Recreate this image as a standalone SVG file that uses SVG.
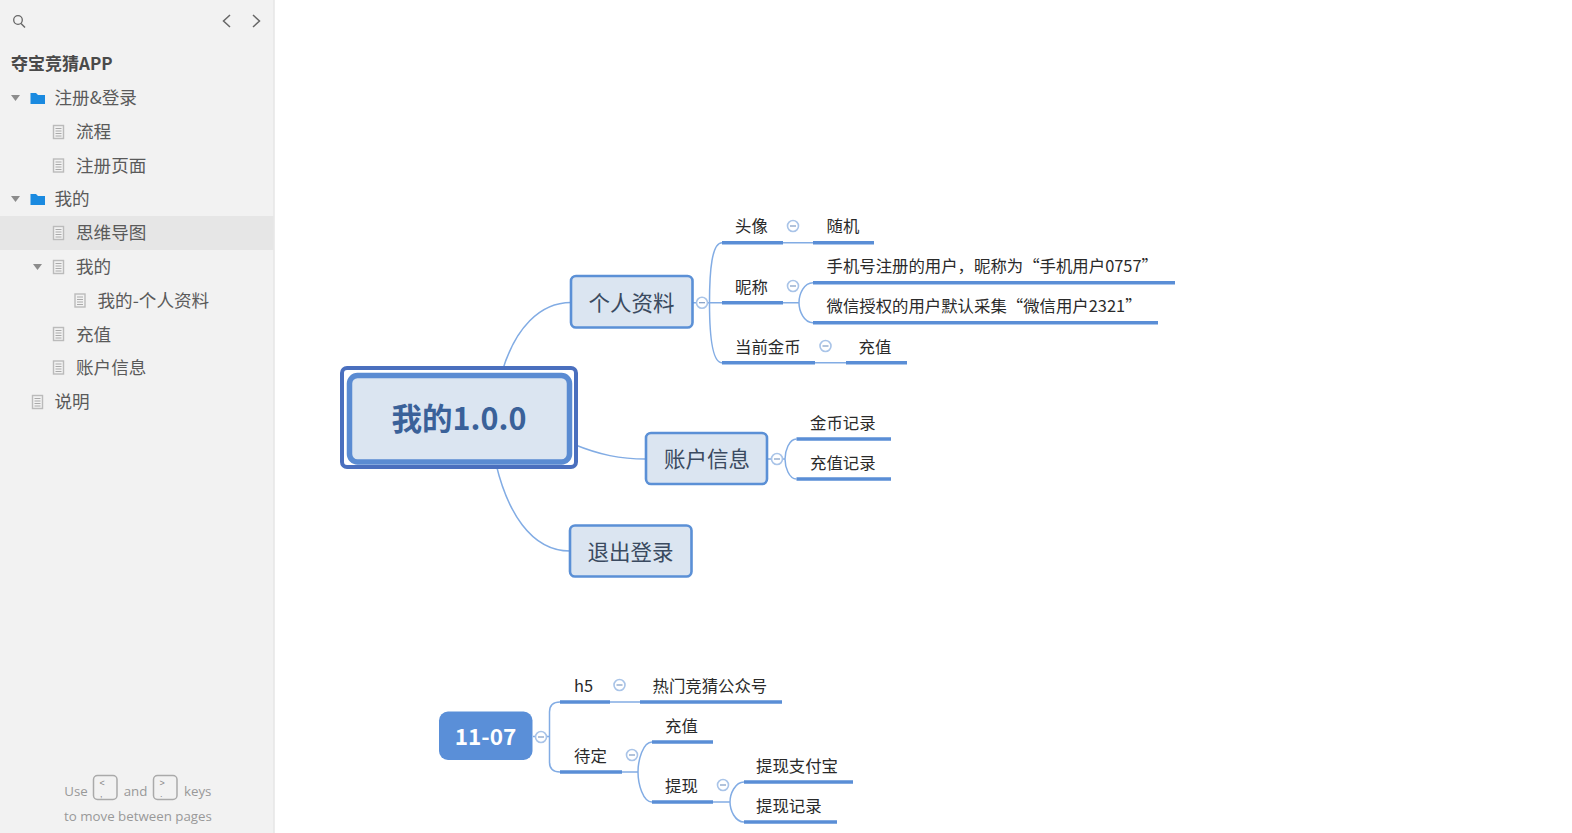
<svg xmlns="http://www.w3.org/2000/svg" width="1572" height="833" viewBox="0 0 1572 833">
<style>
text{font-family:"Noto Sans CJK SC","Noto Sans",sans-serif}
.side{font-size:17.6px;fill:#5a5a5a}
.hint{font-family:"Open Sans","Noto Sans",sans-serif;font-size:13.300px;fill:#999}
.key{fill:none;stroke:#aaa;stroke-width:1.5}
.keyt{font-family:"Liberation Sans",sans-serif;font-size:9px;fill:#888}
.doc{fill:#f2f2f2;stroke:#bbb;stroke-width:1.4}
.docl{stroke:#aaa;stroke-width:1;fill:none}
.tri{fill:#8c8c8c}
.folder{fill:#1a8ae0}
.main{fill:#dbe5f1;stroke:#5b90d6;stroke-width:2.6}
.mt{font-size:21.500px;fill:#3a4a60;text-anchor:middle}
.leaf{font-size:16.400px;fill:#2a2a2a}
.thin{fill:none;stroke:#82ace4;stroke-width:1.5}
.thick{fill:none;stroke:#5a8ed6;stroke-width:3.600}
.col{fill:#fff;stroke:#a9c4e8;stroke-width:1.6}
.colm{stroke:#7f9cc4;stroke-width:1.2}
</style>
<defs>
<g id="d"><rect class="doc" x="-5" y="-6.500" width="10" height="13"/><path class="docl" d="M-3-3.500H3M-3-1H3M-3 1.500H3M-3 4H3"/></g>
<g id="f"><path class="folder" d="M0 0H5.500L7.500 2H14.500V11H0Z"/></g>
<g id="c"><circle class="col" r="5.500"/><path class="colm" d="M-3 0H3"/></g>
</defs>
<rect width="1572" height="833" fill="#fff"/>
<g id="sidebar">
<rect width="273.500" height="833" fill="#f2f2f2"/>
<rect x="273.500" width="1" height="833" fill="#d9d9d9"/>
<rect y="216" width="273.500" height="34" fill="#e6e6e6"/>
<circle cx="18" cy="20" r="4.300" fill="none" stroke="#666" stroke-width="1.300"/><path d="M21 23.500L25 27.500" stroke="#666" stroke-width="1.500"/>
<path d="M230 15L223.500 21L230 27M253 15L259.500 21L253 27" fill="none" stroke="#666" stroke-width="1.500"/>
<text x="11" y="70" font-size="17" font-weight="700" fill="#4a4a4a">夺宝竞猜APP</text>
<path class="tri" d="M11 95H20L15.500 101Z"/><use href="#f" x="30.500" y="93"/><text class="side" x="54.500" y="104">注册&amp;登录</text>
<use href="#d" x="58.500" y="132"/><text class="side" x="76" y="138">流程</text>
<use href="#d" x="58.500" y="165.500"/><text class="side" x="76" y="172">注册页面</text>
<path class="tri" d="M11 196H20L15.500 202Z"/><use href="#f" x="30.500" y="194"/><text class="side" x="54.500" y="205">我的</text>
<use href="#d" x="58.500" y="233"/><text class="side" x="76" y="239">思维导图</text>
<path class="tri" d="M33 264H42L37.500 270Z"/><use href="#d" x="58.500" y="267"/><text class="side" x="76" y="273">我的</text>
<use href="#d" x="80" y="300.500"/><text class="side" x="97.500" y="307">我的-个人资料</text>
<use href="#d" x="58.500" y="334"/><text class="side" x="76" y="340.500">充值</text>
<use href="#d" x="58.500" y="367.500"/><text class="side" x="76" y="374">账户信息</text>
<use href="#d" x="37.500" y="402"/><text class="side" x="54.500" y="408">说明</text>
<text class="hint" x="64.300" y="796">Use</text>
<rect class="key" x="93.500" y="775.500" width="23.500" height="24" rx="4"/><text class="keyt" x="99.500" y="786">&lt;</text><text class="keyt" x="100" y="796.500">,</text>
<text class="hint" x="123.700" y="796">and</text>
<rect class="key" x="153.500" y="775.500" width="23.500" height="24" rx="4"/><text class="keyt" x="159.500" y="786">&gt;</text><text class="keyt" x="160" y="796.500">.</text>
<text class="hint" x="184" y="796">keys</text>
<text class="hint" x="64" y="821">to move between pages</text>
</g>
<g id="connectors">
<path class="thin" d="M502 372C515 328 540 302.500 571 302.500"/>
<path class="thin" d="M573 444C600 455 620 459 646 459"/>
<path class="thin" d="M496 464C507 510 530 551 570 551"/>
<path class="thin" d="M693 302.700H722M709.500 302.700C709.500 270 712 242.700 722 242.700M709.500 302.700C709.500 335 712 362.700 722 362.700"/>
<path class="thick" d="M722 242.700H783M813 242.700H874M722 302.700H783M813 282.700H1175M813 322.700H1158M722 362.700H815M846 362.700H907"/>
<path class="thin" d="M783 242.700H813M783 302.700H799M846 362.700H815M813 282.700C804 282.700 799 294 799 302.700C799 311 804 322.700 813 322.700"/>
<path class="thin" d="M767 459H785M796.500 439C789 439 785 451 785 459C785 467 789 479 796.500 479"/>
<path class="thick" d="M796.500 439H891M796.500 479H891"/>
<path class="thin" d="M533 736.500H549.500M560 702C553 702 549.500 705 549.500 712V762C549.500 769 553 772 560 772"/>
<path class="thick" d="M560 702H610M640 702H782M560 772H622M652 742H713M652 802H713M744 782H853M744 822H837"/>
<path class="thin" d="M610 702H640M622 772H638M713 802H730M652 742C643 742 638 760 638 772C638 784 643 802 652 802M744 782C735 782 730 794 730 802C730 810 735 822 744 822"/>
</g>
<g id="root1">
<rect x="342" y="368" width="234" height="99" rx="5" fill="#fff" stroke="#4a6fbe" stroke-width="4"/>
<rect x="349.500" y="375.500" width="220" height="86.500" rx="8" fill="#dbe5f1" stroke="#5a8bd2" stroke-width="5.500"/>
<text x="459" y="430" font-size="30.500" font-weight="700" fill="#3a6199" text-anchor="middle">我的1.0.0</text>
</g>
<g id="n-profile"><rect class="main" x="571" y="276" width="121.500" height="51.500" rx="5"/><text class="mt" x="631.500" y="311">个人资料</text><use href="#c" x="702" y="302.700"/></g>
<g id="n-account"><rect class="main" x="646" y="433" width="121" height="51" rx="5"/><text class="mt" x="707" y="467">账户信息</text><use href="#c" x="777" y="459"/></g>
<g id="n-logout"><rect class="main" x="570" y="525.500" width="121.500" height="51" rx="5"/><text class="mt" x="630.500" y="560">退出登录</text></g>
<g id="n-avatar"><text class="leaf" x="735" y="232">头像</text><use href="#c" x="793" y="226"/></g>
<g id="n-random"><text class="leaf" x="826.500" y="232">随机</text></g>
<g id="n-nick"><text class="leaf" x="735" y="292.500">昵称</text><use href="#c" x="793" y="286"/></g>
<g id="n-nick1"><text class="leaf" x="826.500" y="272">手机号注册的用户，昵称为“手机用户0757”</text></g>
<g id="n-nick2"><text class="leaf" x="826.500" y="312">微信授权的用户默认采集“微信用户2321”</text></g>
<g id="n-coin"><text class="leaf" x="735" y="352.500">当前金币</text><use href="#c" x="825.500" y="346"/></g>
<g id="n-topup"><text class="leaf" x="858.500" y="352.500">充值</text></g>
<g id="n-coinrec"><text class="leaf" x="810" y="428.500">金币记录</text></g>
<g id="n-topuprec"><text class="leaf" x="810" y="468.500">充值记录</text></g>
<g id="root2"><rect x="439" y="711.500" width="93.500" height="48.500" rx="9" fill="#5a8fd8"/><text x="485.500" y="744.500" font-size="22.500" font-weight="700" fill="#fff" text-anchor="middle">11-07</text><use href="#c" x="541" y="737"/></g>
<g id="n-h5"><text class="leaf" x="574" y="691.500">h5</text><use href="#c" x="619.500" y="685"/></g>
<g id="n-hot"><text class="leaf" x="652.500" y="691.500">热门竞猜公众号</text></g>
<g id="n-pending"><text class="leaf" x="574" y="762">待定</text><use href="#c" x="632" y="755"/></g>
<g id="n-t2"><text class="leaf" x="665" y="732">充值</text></g>
<g id="n-withdraw"><text class="leaf" x="665" y="792">提现</text><use href="#c" x="723" y="785"/></g>
<g id="n-alipay"><text class="leaf" x="756" y="772">提现支付宝</text></g>
<g id="n-wrec"><text class="leaf" x="756" y="812">提现记录</text></g>
</svg>
